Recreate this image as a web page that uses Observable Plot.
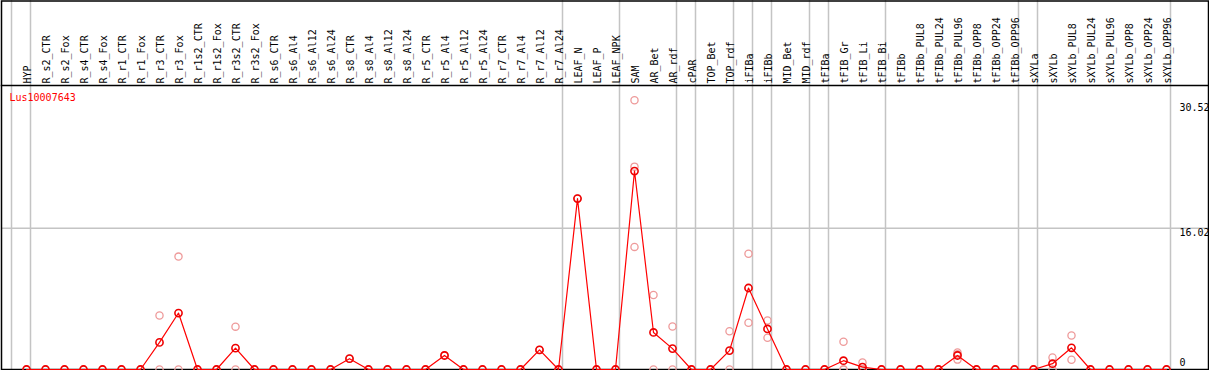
<!DOCTYPE html>
<html>
<head>
<meta charset="utf-8">
<script src="https://cdn.jsdelivr.net/npm/d3@7"></script>
<script src="https://cdn.jsdelivr.net/npm/@observablehq/plot@0.6"></script>
<style>
  html, body { margin: 0; padding: 0; background: #fff; }
  svg { display: block; }
</style>
</head>
<body>
<div id="chart"></div>
<script>
const title = "Lus10007643";

const labels = [
  "HYP",
  "R_s2_CTR","R_s2_Fox","R_s4_CTR","R_s4_Fox","R_r1_CTR","R_r1_Fox","R_r3_CTR","R_r3_Fox",
  "R_r1s2_CTR","R_r1s2_Fox","R_r3s2_CTR","R_r3s2_Fox",
  "R_s6_CTR","R_s6_Al4","R_s6_Al12","R_s6_Al24",
  "R_s8_CTR","R_s8_Al4","R_s8_Al12","R_s8_Al24",
  "R_r5_CTR","R_r5_Al4","R_r5_Al12","R_r5_Al24",
  "R_r7_CTR","R_r7_Al4","R_r7_Al12","R_r7_Al24",
  "LEAF_N","LEAF_P","LEAF_NPK",
  "SAM","AR_Bet","AR_rdf","cPAR","TOP_Bet","TOP_rdf","iFIBa","iFIBb","MID_Bet","MID_rdf",
  "tFIBa","tFIB_Gr","tFIB_Li","tFIB_Bi",
  "tFIBb","tFIBb_PUL8","tFIBb_PUL24","tFIBb_PUL96","tFIBb_OPP8","tFIBb_OPP24","tFIBb_OPP96",
  "sXYLa","sXYLb","sXYLb_PUL8","sXYLb_PUL24","sXYLb_PUL96","sXYLb_OPP8","sXYLb_OPP24","sXYLb_OPP96"
];

// mean expression per sample
const means = [
  0,
  0, 0, 0, 0, 0, 0, 3.07, 6.4,
  0, 0, 2.42, 0,
  0, 0, 0, 0,
  1.23, 0, 0, 0,
  0, 1.59, 0, 0,
  0, 0, 2.22, 0,
  19.38, 0, 0,
  22.5, 4.2, 2.37, 0, 0, 2.14, 9.24, 4.6, 0, 0,
  0, 1.0, 0.27, 0,
  0, 0, 0, 1.59, 0, 0, 0,
  0, 0.66, 2.46, 0, 0, 0, 0, 0
];

// individual replicate values per sample
const replicates = [
  [0],
  [0],[0],[0],[0],[0],[0],[6.12,0],[12.8,0],
  [0],[0],[4.86,0],[0],
  [0],[0],[0],[0],
  [1.23],[0],[0],[0],
  [0],[1.59],[0],[0],
  [0],[0],[2.22],[0],
  [19.38],[0],[0],
  [30.52,23.0,13.9],[8.45,0],[4.87,0],[0],[0],[4.34,0],[13.12,5.3],[5.56,3.6],[0],[0],
  [0],[3.14,0,0],[0.8,0,0],[0],
  [0],[0],[0],[1.93,1.72,1.12],[0],[0],[0],
  [0],[1.36,0],[3.85,1.1],[0],[0],[0],[0],[0]
];

// first sample index of each tissue group (grid separators)
const groupStarts = [0, 1, 29, 32, 35, 36, 38, 39, 40, 42, 43, 46, 53, 54, 61];

const yTicks = [30.52, 16.02];
const yZero = [0];

const meanData = means.map((v, i) => ({i, v}));
const repData = replicates.flatMap((arr, i) => arr.map(v => ({i, v})));

const font = "DejaVu Sans Mono";

const chart = Plot.plot({
  width: 1209,
  height: 370,
  marginTop: 85,
  marginBottom: 1,
  marginLeft: 1,
  marginRight: 1,
  x: {domain: [0, 60], range: [26, 1166], axis: null},
  y: {domain: [0, 30.52], range: [369, 99.8], axis: null},
  style: {fontFamily: font, fontSize: "10px", background: "#fff", overflow: "visible"},
  marks: [
    Plot.ruleX(groupStarts, {x: d => d, dx: -15, stroke: "#c4c4c4", strokeWidth: 1.5, insetTop: -85}),
    Plot.ruleY([16.02], {stroke: "#c4c4c4", strokeWidth: 1.5}),
    Plot.frame({stroke: "#000", strokeWidth: 1.5, insetTop: -84.5}),
    Plot.frame({anchor: "top", stroke: "#000", strokeWidth: 1.5}),
    Plot.text(labels, {
      x: (d, i) => i, text: d => d, frameAnchor: "top", rotate: -90,
      textAnchor: "start", lineAnchor: "bottom", dx: 4, dy: -2, fill: "#000"
    }),
    Plot.text([title], {
      frameAnchor: "top-left", textAnchor: "start", lineAnchor: "middle",
      dx: 8, dy: 12, fill: "#ff0000"
    }),
    Plot.text(yTicks.slice(0, 1), {
      y: d => d, text: d => String(d), frameAnchor: "right", textAnchor: "start",
      lineAnchor: "middle", dx: -29, dy: 7, fill: "#000"
    }),
    Plot.text(yTicks.slice(1), {
      y: d => d, text: d => String(d), frameAnchor: "right", textAnchor: "start",
      lineAnchor: "middle", dx: -29, dy: 5, fill: "#000"
    }),
    Plot.text(yZero, {
      y: d => d, text: d => String(d), frameAnchor: "right", textAnchor: "start",
      lineAnchor: "middle", dx: -29, dy: -7, fill: "#000"
    }),
    Plot.dot(repData, {x: "i", y: "v", r: 3.6, stroke: "#ee9a9a", strokeWidth: 1.3, fill: "none"}),
    Plot.line(meanData, {x: "i", y: "v", stroke: "#ff0000", strokeWidth: 1.2}),
    Plot.dot(meanData, {x: "i", y: "v", r: 3.6, stroke: "#ee0000", strokeWidth: 1.6, fill: "none"})
  ]
});

document.getElementById("chart").appendChild(chart);
</script>
</body>
</html>
